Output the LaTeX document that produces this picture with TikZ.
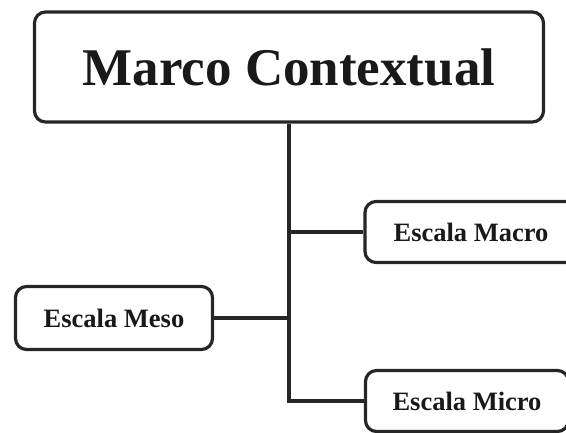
\documentclass[tikz,border=0pt]{standalone}
\usepackage{fontspec}
\setmainfont{Liberation Serif}
\begin{document}
\begin{tikzpicture}[x=1pt,y=-1pt,
  box/.style={draw=black!85, line width=3.2pt, rounded corners=11pt, fill=white, inner sep=0pt, font=\bfseries, text=black!90},
  link/.style={draw=black!85, line width=3.2pt}]
\useasboundingbox (0,0) rectangle (566,433);
\clip (0,0) rectangle (566,433);
\node[box, minimum width=509pt, minimum height=110pt, font=\fontsize{53}{60}\bfseries\selectfont] (main) at (289,67) {Marco Contextual};
\node[box, minimum width=212pt, minimum height=61pt, font=\fontsize{26.5}{30}\bfseries\selectfont] (macro) at (471,232) {Escala Macro};
\node[box, minimum width=197pt, minimum height=63pt, font=\fontsize{26.5}{30}\bfseries\selectfont] (meso) at (114,318) {Escala Meso};
\node[box, minimum width=203pt, minimum height=61pt, font=\fontsize{26.5}{30}\bfseries\selectfont] (micro) at (467,401) {Escala Micro};
\coordinate (top) at (289,123);
\coordinate (j1) at (289,232);
\coordinate (j2) at (289,318);
\coordinate (j3) at (289,401);
\draw[link] (main.south) -- (j3) -- (micro.west);
\draw[link] (j1) -- (macro.west);
\draw[link] (meso.east) -- (j2);
\end{tikzpicture}
\end{document}
